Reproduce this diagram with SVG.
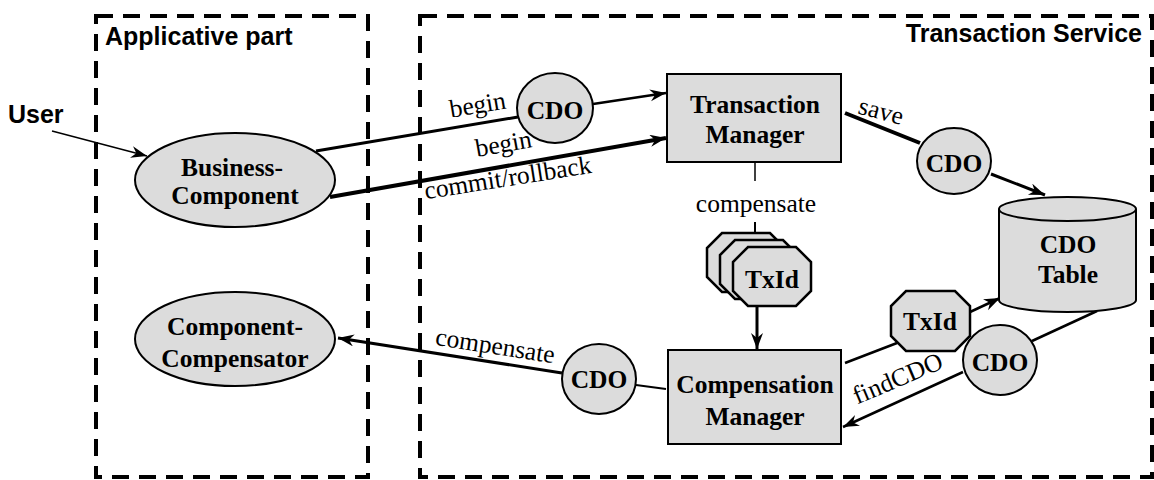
<svg xmlns="http://www.w3.org/2000/svg" width="1154" height="480" viewBox="0 0 1154 480">
<style>
.frame{fill:none;stroke:#000;stroke-width:4;stroke-dasharray:17 10}
.node{fill:#dcdcdc;stroke:#000;stroke-width:2}
.oct{fill:#dcdcdc;stroke:#000;stroke-width:2.5;stroke-linejoin:miter}
.sans{font-family:"Liberation Sans",Arial,sans-serif;font-weight:bold;font-size:25px;fill:#000}
.nl{font-family:"Liberation Serif","Times New Roman",serif;font-weight:bold;font-size:25.5px;fill:#000;text-anchor:middle}
.lbl{font-family:"Liberation Serif","Times New Roman",serif;font-size:25.5px;fill:#000;text-anchor:middle}
.c{stroke:#000;fill:none}
</style>
<defs>
<marker id="arr" markerUnits="userSpaceOnUse" markerWidth="18" markerHeight="14" refX="16" refY="6" orient="auto">
<path d="M0,0 L16,6 L0,12 L5,6 z" fill="#000"/>
</marker>
</defs>
<rect width="1154" height="480" fill="#fff"/>
<g id="frames">
<rect class="frame" x="96" y="16" width="272" height="461"/>
<rect class="frame" x="420" y="16" width="732" height="461"/>
<text class="sans" x="105" y="45">Applicative part</text>
<text class="sans" x="1142" y="42" text-anchor="end">Transaction Service</text>
<text class="sans" x="8" y="123">User</text>
</g>
<g id="connectors">
<line class="c" x1="52" y1="131" x2="147" y2="156" stroke-width="1.5" marker-end="url(#arr)"/>
<line class="c" x1="316" y1="151" x2="518" y2="117" stroke-width="3"/>
<line class="c" x1="593" y1="104" x2="666" y2="93" stroke-width="2.5" marker-end="url(#arr)"/>
<line class="c" x1="330" y1="197" x2="666" y2="138" stroke-width="4" marker-end="url(#arr)"/>
<line class="c" x1="845" y1="113" x2="920" y2="143" stroke-width="4"/>
<line class="c" x1="991" y1="174" x2="1045" y2="195" stroke-width="3" marker-end="url(#arr)"/>
<line class="c" x1="755" y1="163" x2="755" y2="181" stroke-width="1.5"/>
<line class="c" x1="755" y1="222" x2="755" y2="234" stroke-width="2"/>
<line class="c" x1="757" y1="306" x2="757" y2="349" stroke-width="3" marker-end="url(#arr)"/>
<line class="c" x1="666" y1="389" x2="636" y2="385" stroke-width="2"/>
<line class="c" x1="562" y1="373" x2="338" y2="338" stroke-width="3" marker-end="url(#arr)"/>
<line class="c" x1="845" y1="363" x2="897" y2="343" stroke-width="2.5"/>
<line class="c" x1="970" y1="312" x2="1000" y2="298" stroke-width="2.5" marker-end="url(#arr)"/>
<line class="c" x1="1097" y1="311" x2="1032" y2="341" stroke-width="2.5"/>
<line class="c" x1="963" y1="372" x2="843" y2="427" stroke-width="2.5" marker-end="url(#arr)"/>
<text class="lbl" x="479" y="113" transform="rotate(-9.5 479 113)">begin</text>
<text class="lbl" x="505" y="152" transform="rotate(-10 505 152)">begin</text>
<text class="lbl" x="509" y="186" transform="rotate(-9 509 186)">commit/rollback</text>
<text class="lbl" x="879" y="119" transform="rotate(15 879 119)">save</text>
<text class="lbl" x="756" y="212">compensate</text>
<text class="lbl" x="494" y="354" transform="rotate(8.8 494 354)">compensate</text>
<text class="lbl" x="901" y="386" transform="rotate(-23 901 386)">findCDO</text>
</g>
<g id="business-component">
<ellipse class="node" cx="235" cy="180" rx="100" ry="47"/>
<text class="nl" x="232" y="176">Business-</text>
<text class="nl" x="235" y="204">Component</text>
</g>
<g id="component-compensator">
<ellipse class="node" cx="235" cy="339" rx="100" ry="47"/>
<text class="nl" x="235" y="335">Component-</text>
<text class="nl" x="235" y="367">Compensator</text>
</g>
<g id="cdo-begin">
<ellipse class="node" cx="555" cy="108" rx="38" ry="35"/>
<text class="nl" x="555" y="119">CDO</text>
</g>
<g id="transaction-manager">
<rect class="node" x="667" y="74" width="174" height="88"/>
<text class="nl" x="755" y="113">Transaction</text>
<text class="nl" x="755" y="143">Manager</text>
</g>
<g id="cdo-save">
<ellipse class="node" cx="954" cy="161" rx="37" ry="33"/>
<text class="nl" x="954" y="172">CDO</text>
</g>
<g id="cdo-table">
<path class="node" d="M999,209 L999,300 A68.5,12 0 0 0 1136,300 L1136,209 A68.5,12 0 0 0 999,209 Z"/>
<path class="node" fill="none" d="M999,209 A68.5,12 0 0 0 1136,209"/>
<text class="nl" x="1068" y="253">CDO</text>
<text class="nl" x="1068" y="283">Table</text>
</g>
<g id="txid-stack">
<polygon class="oct" points="722,233 770,233 785,248 785,277 770,292 722,292 707,277 707,248"/>
<polygon class="oct" points="735,240 783,240 798,255 798,284 783,299 735,299 720,284 720,255"/>
<polygon class="oct" points="748,247 796,247 811,262 811,291 796,306 748,306 733,291 733,262"/>
<text class="nl" x="772" y="288">TxId</text>
</g>
<g id="compensation-manager">
<rect class="node" x="668" y="350" width="173" height="94"/>
<text class="nl" x="755" y="393">Compensation</text>
<text class="nl" x="755" y="425">Manager</text>
</g>
<g id="cdo-compensate">
<ellipse class="node" cx="599" cy="379" rx="37" ry="35"/>
<text class="nl" x="599" y="388">CDO</text>
</g>
<g id="txid-find">
<polygon class="oct" points="906,291 955,291 970,306 970,336 955,351 906,351 891,336 891,306"/>
<text class="nl" x="930" y="330">TxId</text>
</g>
<g id="cdo-find">
<ellipse class="node" cx="1000" cy="360" rx="37" ry="35"/>
<text class="nl" x="1000" y="371">CDO</text>
</g>
</svg>
